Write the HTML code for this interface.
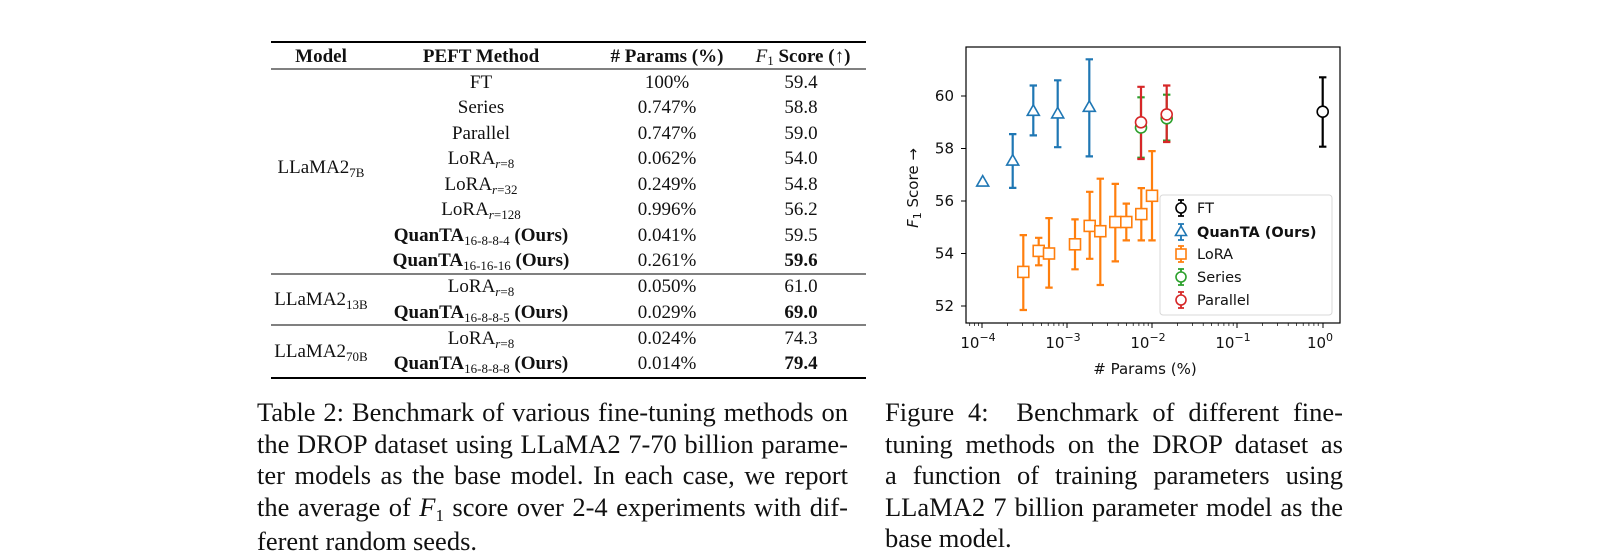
<!DOCTYPE html>
<html><head><meta charset="utf-8"><style>
body{margin:0;background:#fff;width:1618px;height:555px;overflow:hidden;position:relative}
.cap{position:absolute;font-family:"Liberation Serif",serif;font-size:26.5px;line-height:31.5px;color:#111}
.cap div{white-space:nowrap;text-align:justify;text-align-last:justify}
.cap div.l{text-align-last:left}
</style></head><body>
<svg width="1618" height="555" style="position:absolute;left:0;top:0" font-family="Liberation Serif, serif">
<!-- table -->
<g stroke="#000">
<line x1="271" y1="42" x2="866" y2="42" stroke-width="2"/>
<line x1="271" y1="69" x2="866" y2="69" stroke-width="1"/>
<line x1="271" y1="274" x2="866" y2="274" stroke-width="1"/>
<line x1="271" y1="325" x2="866" y2="325" stroke-width="1"/>
<line x1="271" y1="378" x2="866" y2="378" stroke-width="2"/>
</g>
<g font-size="19" text-anchor="middle" fill="#111">
<text x="321" y="62" font-weight="bold">Model</text>
<text x="481" y="62" font-weight="bold">PEFT Method</text>
<text x="667" y="62" font-weight="bold"># Params (%)</text>
<text x="803" y="62"><tspan font-style="italic">F</tspan><tspan font-size="13" dy="3">1</tspan><tspan dy="-3" font-weight="bold"> Score (</tspan>↑<tspan font-weight="bold">)</tspan></text>

<text x="321" y="173">LLaMA2<tspan font-size="13" dy="4">7B</tspan></text>
<text x="321" y="305">LLaMA2<tspan font-size="13" dy="4">13B</tspan></text>
<text x="321" y="357">LLaMA2<tspan font-size="13" dy="4">70B</tspan></text>

<text x="481" y="88">FT</text>
<text x="481" y="113">Series</text>
<text x="481" y="139">Parallel</text>
<text x="481" y="164">LoRA<tspan font-size="13" dy="4"><tspan font-style="italic">r</tspan>=8</tspan></text>
<text x="481" y="190">LoRA<tspan font-size="13" dy="4"><tspan font-style="italic">r</tspan>=32</tspan></text>
<text x="481" y="215">LoRA<tspan font-size="13" dy="4"><tspan font-style="italic">r</tspan>=128</tspan></text>
<text x="481" y="241" font-weight="bold">QuanTA<tspan font-size="13" font-weight="normal" dy="4">16-8-8-4</tspan><tspan dy="-4"> (Ours)</tspan></text>
<text x="481" y="266" font-weight="bold">QuanTA<tspan font-size="13" font-weight="normal" dy="4">16-16-16</tspan><tspan dy="-4"> (Ours)</tspan></text>
<text x="481" y="292">LoRA<tspan font-size="13" dy="4"><tspan font-style="italic">r</tspan>=8</tspan></text>
<text x="481" y="318" font-weight="bold">QuanTA<tspan font-size="13" font-weight="normal" dy="4">16-8-8-5</tspan><tspan dy="-4"> (Ours)</tspan></text>
<text x="481" y="344">LoRA<tspan font-size="13" dy="4"><tspan font-style="italic">r</tspan>=8</tspan></text>
<text x="481" y="369" font-weight="bold">QuanTA<tspan font-size="13" font-weight="normal" dy="4">16-8-8-8</tspan><tspan dy="-4"> (Ours)</tspan></text>

<text x="667" y="88">100%</text><text x="667" y="113">0.747%</text><text x="667" y="139">0.747%</text>
<text x="667" y="164">0.062%</text><text x="667" y="190">0.249%</text><text x="667" y="215">0.996%</text>
<text x="667" y="241">0.041%</text><text x="667" y="266">0.261%</text><text x="667" y="292">0.050%</text>
<text x="667" y="318">0.029%</text><text x="667" y="344">0.024%</text><text x="667" y="369">0.014%</text>

<text x="801" y="88">59.4</text><text x="801" y="113">58.8</text><text x="801" y="139">59.0</text>
<text x="801" y="164">54.0</text><text x="801" y="190">54.8</text><text x="801" y="215">56.2</text>
<text x="801" y="241">59.5</text><text x="801" y="266" font-weight="bold">59.6</text><text x="801" y="292">61.0</text>
<text x="801" y="318" font-weight="bold">69.0</text><text x="801" y="344">74.3</text><text x="801" y="369" font-weight="bold">79.4</text>
</g>

<!-- plot -->
<g font-family="DejaVu Sans, sans-serif" font-size="15" fill="#111">
<g stroke="#000" stroke-width="1">
<line x1="966" y1="306" x2="961" y2="306"/><line x1="966" y1="253.5" x2="961" y2="253.5"/>
<line x1="966" y1="201" x2="961" y2="201"/><line x1="966" y1="148.5" x2="961" y2="148.5"/>
<line x1="966" y1="96" x2="961" y2="96"/>
<line x1="982" y1="323" x2="982" y2="328"/><line x1="1067" y1="323" x2="1067" y2="328"/>
<line x1="1152" y1="323" x2="1152" y2="328"/><line x1="1237" y1="323" x2="1237" y2="328"/>
<line x1="1323" y1="323" x2="1323" y2="328"/>
</g>
<g stroke="#000" stroke-width="0.7">
<path d="M969.7 323v3M974.6 323v3M978.6 323v3 M1007.6 323v3M1022.6 323v3M1033.2 323v3M1041.5 323v3M1048.2 323v3M1053.9 323v3M1058.9 323v3M1063.2 323v3 M1092.6 323v3M1107.6 323v3M1118.2 323v3M1126.5 323v3M1133.2 323v3M1138.9 323v3M1143.9 323v3M1148.2 323v3 M1177.6 323v3M1192.6 323v3M1203.2 323v3M1211.5 323v3M1218.2 323v3M1223.9 323v3M1228.9 323v3M1233.2 323v3 M1262.6 323v3M1277.6 323v3M1288.2 323v3M1296.5 323v3M1303.2 323v3M1308.9 323v3M1313.9 323v3M1318.2 323v3"/>
</g>
<g text-anchor="end">
<text x="954" y="311">52</text><text x="954" y="258.5">54</text><text x="954" y="206">56</text>
<text x="954" y="153.5">58</text><text x="954" y="101">60</text>
</g>
<g text-anchor="middle">
<text x="978" y="348">10<tspan font-size="11" dy="-7">−4</tspan></text>
<text x="1063" y="348">10<tspan font-size="11" dy="-7">−3</tspan></text>
<text x="1148" y="348">10<tspan font-size="11" dy="-7">−2</tspan></text>
<text x="1233" y="348">10<tspan font-size="11" dy="-7">−1</tspan></text>
<text x="1320" y="348">10<tspan font-size="11" dy="-7">0</tspan></text>
<text x="1145" y="374"># Params (%)</text>
<text transform="translate(918,188) rotate(-90)"><tspan font-style="italic">F</tspan><tspan font-size="11" dy="3">1</tspan><tspan dy="-3"> Score →</tspan></text>
</g>

<g fill="none" stroke-width="2.2">
<g stroke="#1f77b4">
<path d="M1012.7 187.9V134.1M1009 187.9h7.4M1009 134.1h7.4"/>
<path d="M1033.3 135.4V85.5M1029.6 135.4h7.4M1029.6 85.5h7.4"/>
<path d="M1057.7 147.2V80.3M1054 147.2h7.4M1054 80.3h7.4"/>
<path d="M1089.3 156.4V59.3M1085.6 156.4h7.4M1085.6 59.3h7.4"/>
</g>
<g stroke="#ff7f0e">
<path d="M1023.3 310V235.1M1019.6 310h7.4M1019.6 235.1h7.4"/>
<path d="M1038.7 265.3V237.8M1035 265.3h7.4M1035 237.8h7.4"/>
<path d="M1049 287.6V218.1M1045.3 287.6h7.4M1045.3 218.1h7.4"/>
<path d="M1075 269.3V219.4M1071.3 269.3h7.4M1071.3 219.4h7.4"/>
<path d="M1089.7 258.8V191.8M1086 258.8h7.4M1086 191.8h7.4"/>
<path d="M1100.3 285V178.7M1096.6 285h7.4M1096.6 178.7h7.4"/>
<path d="M1115.3 261.4V183.9M1111.6 261.4h7.4M1111.6 183.9h7.4"/>
<path d="M1126.3 240.4V203.6M1122.6 240.4h7.4M1122.6 203.6h7.4"/>
<path d="M1141.3 240.4V188.1M1137.6 240.4h7.4M1137.6 188.1h7.4"/>
<path d="M1152 240.4V151.1M1148.3 240.4h7.4M1148.3 151.1h7.4"/>
</g>
<g stroke="#2ca02c">
<path d="M1141 157.7V97.3M1137.3 157.7h7.4M1137.3 97.3h7.4"/>
<path d="M1166.7 140.6V94.7M1163 140.6h7.4M1163 94.7h7.4"/>
</g>
<g stroke="#d62728">
<path d="M1141 159V86.8M1137.3 159h7.4M1137.3 86.8h7.4"/>
<path d="M1166.7 142V85.5M1163 142h7.4M1163 85.5h7.4"/>
</g>
<g stroke="#000">
<path d="M1322.7 146.7V77.3M1319 146.7h7.4M1319 77.3h7.4"/>
</g>
</g>
<g fill="#fff" stroke-width="1.6">
<g stroke="#1f77b4">
<path d="M982.7 175.6l6 10.5h-12z"/><path d="M1012.7 154.6l6 10.5h-12z"/>
<path d="M1033.3 104.8l6 10.5h-12z"/><path d="M1057.7 107.4l6 10.5h-12z"/>
<path d="M1089.3 100.8l6 10.5h-12z"/>
</g>
<g stroke="#ff7f0e">
<rect x="1017.8" y="266.4" width="11" height="11"/><rect x="1033.2" y="245.4" width="11" height="11"/>
<rect x="1043.5" y="248" width="11" height="11"/><rect x="1069.5" y="238.8" width="11" height="11"/>
<rect x="1084.2" y="220.4" width="11" height="11"/><rect x="1094.8" y="225.7" width="11" height="11"/>
<rect x="1109.8" y="216.5" width="11" height="11"/><rect x="1120.8" y="216.5" width="11" height="11"/>
<rect x="1135.8" y="208.6" width="11" height="11"/><rect x="1146.5" y="190.3" width="11" height="11"/>
</g>
<g stroke="#2ca02c"><circle cx="1141" cy="127.5" r="5.5"/><circle cx="1166.7" cy="118.3" r="5.5"/></g>
<g stroke="#d62728"><circle cx="1141" cy="122.3" r="5.5"/><circle cx="1166.7" cy="114.4" r="5.5"/></g>
<g stroke="#000"><circle cx="1322.7" cy="111.7" r="5.5"/></g>
</g>

<rect x="1160" y="195" width="172" height="120" rx="3" fill="#fff" fill-opacity="0.85" stroke="#d8d8d8" stroke-width="1"/>
<g fill="none" stroke-width="1.6">
<g stroke="#000"><path d="M1181 200v16M1178 200h6M1178 216h6" stroke-width="1.8"/><circle cx="1181" cy="208" r="5" fill="#fff"/></g>
<g stroke="#1f77b4"><path d="M1181 224v16M1178 224h6M1178 240h6" stroke-width="1.8"/><path d="M1181 226l5.5 9.5h-11z" fill="#fff"/></g>
<g stroke="#ff7f0e"><path d="M1181 246v16M1178 246h6M1178 262h6" stroke-width="1.8"/><rect x="1176" y="249" width="10" height="10" fill="#fff"/></g>
<g stroke="#2ca02c"><path d="M1181 269v16M1178 269h6M1178 285h6" stroke-width="1.8"/><circle cx="1181" cy="277" r="5" fill="#fff"/></g>
<g stroke="#d62728"><path d="M1181 292v16M1178 292h6M1178 308h6" stroke-width="1.8"/><circle cx="1181" cy="300" r="5" fill="#fff"/></g>
</g>
<g font-size="14.5">
<text x="1197" y="213">FT</text>
<text x="1197" y="237" font-weight="bold">QuanTA (Ours)</text>
<text x="1197" y="259">LoRA</text>
<text x="1197" y="282">Series</text>
<text x="1197" y="305">Parallel</text>
</g>
<rect x="966" y="47" width="374" height="276" fill="none" stroke="#000" stroke-width="1.2"/>
</g>
</svg>

<div class="cap" style="left:257px;top:397px;width:591px">
<div>Table 2: Benchmark of various fine-tuning methods on</div>
<div>the DROP dataset using LLaMA2 7-70 billion parame-</div>
<div>ter models as the base model. In each case, we report</div>
<div>the average of <i>F</i><span style="font-size:17px;position:relative;top:5px">1</span> score over 2-4 experiments with dif-</div>
<div class="l">ferent random seeds.</div>
</div>
<div class="cap" style="left:885px;top:397px;width:458px">
<div>Figure 4: &nbsp;Benchmark of different fine-</div>
<div>tuning methods on the DROP dataset as</div>
<div>a function of training parameters using</div>
<div>LLaMA2 7 billion parameter model as the</div>
<div class="l">base model.</div>
</div>
</body></html>
